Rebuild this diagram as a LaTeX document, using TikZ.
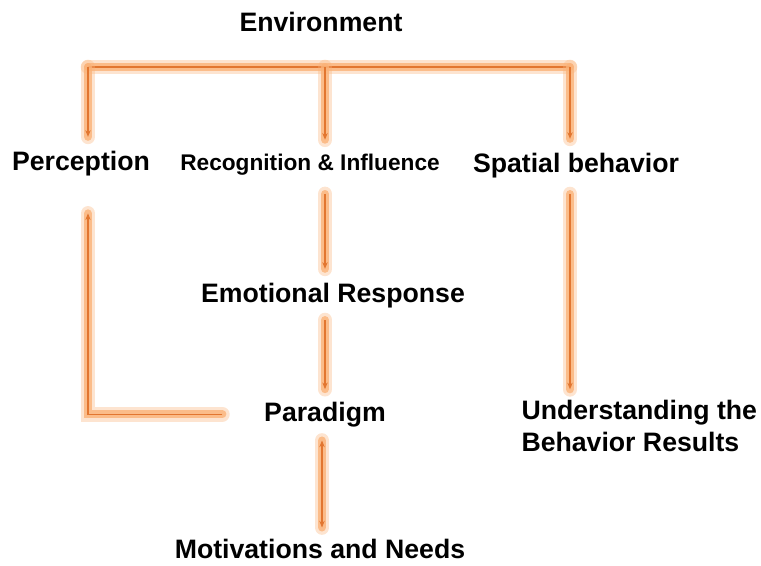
\documentclass[tikz,border=0pt]{standalone}
\usepackage{fontspec}
\setmainfont{Liberation Sans}
\usetikzlibrary{arrows.meta}

\definecolor{coreorange}{RGB}{226,118,48}
\definecolor{gloworange}{RGB}{250,178,120}

\tikzset{every picture/.style={line width=0.75pt}}
\tikzset{
  lbl/.style={inner sep=0pt, anchor=base, font=\fontsize{20}{24}\selectfont\bfseries},
  flow/.style={draw=coreorange, line width=0.9pt,
    -{Stealth[length=5pt,width=4pt]},
    preaction={draw=gloworange, opacity=0.35, line width=11pt, -, line cap=round},
    preaction={draw=gloworange, opacity=0.8, line width=6pt, -, line cap=round}},
  twoway/.style={flow, {Stealth[length=5pt,width=4pt]}-{Stealth[length=5pt,width=4pt]}}
}

\begin{document}
\begin{tikzpicture}[x=0.75pt,y=0.75pt,yscale=-1,xscale=1]
\useasboundingbox (0,0) rectangle (761,565);

% Text Nodes
\node[lbl] (env) at (321,31) {Environment};
\node[lbl] (perc) at (81,170) {Perception};
\node[lbl, font=\fontsize{17}{20}\selectfont\bfseries] (recog) at (310,170) {Recognition \& Influence};
\node[lbl] (spat) at (576,172) {Spatial behavior};
\node[lbl] (emo) at (333,302) {Emotional Response};
\node[lbl] (para) at (325,421) {Paradigm};
\node[lbl, align=left, anchor=north west] (und) at (521,400) {Understanding the\\Behavior Results};
\node[lbl] (motiv) at (320,558) {Motivations and Needs};

% bus coordinates
\coordinate (busL) at (88,67);
\coordinate (busM) at (325,67);
\coordinate (busR) at (570,67);

%Top bus
\path[flow, -] (busL) -- (busR);
\draw[flow, shorten >=10pt] (busL) -- (busL |- perc.north);
\draw[flow, shorten >=10pt] (busM) -- (busM |- recog.north);
\draw[flow, shorten >=10pt] (busR) -- (busR |- spat.north);

%Middle column
\draw[flow, shorten <=14pt, shorten >=10pt] (busM |- recog.south) -- (busM |- emo.north);
\draw[flow, shorten <=9pt, shorten >=9pt] (busM |- emo.south) -- (busM |- para.north);
\draw[twoway, shorten <=10pt, shorten >=8pt] (para.south -| 322,0) -- (motiv.north -| 322,0);

%Feedback loop
\draw[flow, shorten <=31pt, shorten >=28pt] (para.west) -- (busL |- para.west) -- (busL |- perc.south);

%Right column
\draw[flow, shorten <=12pt, shorten >=8pt] (busR |- spat.south) -- (busR |- und.north);

\end{tikzpicture}
\end{document}
